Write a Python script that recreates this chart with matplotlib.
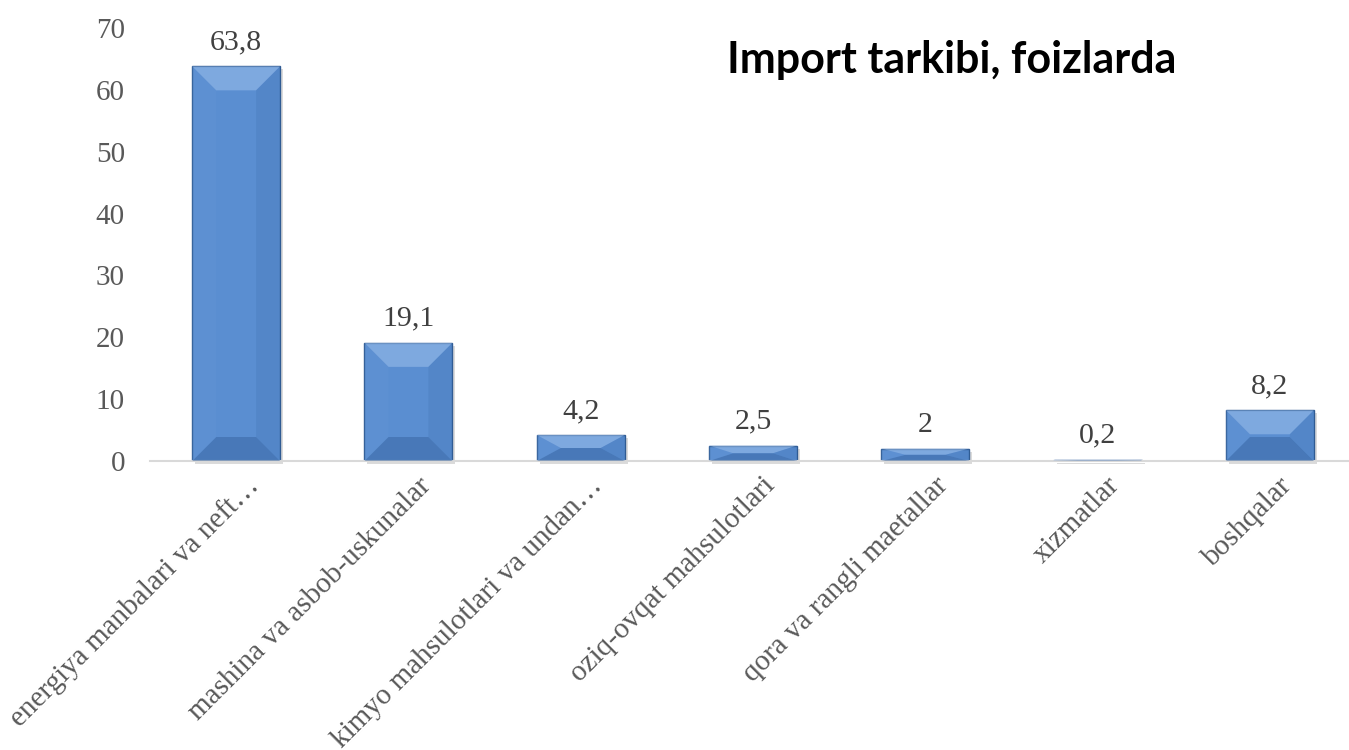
import matplotlib
matplotlib.use('Agg')
import matplotlib.pyplot as plt
from matplotlib.patches import Polygon
from matplotlib.transforms import IdentityTransform, ScaledTranslation

categories = ["energiya manbalari va neft…", "mashina va asbob-uskunalar",
              "kimyo mahsulotlari va undan…", "oziq-ovqat mahsulotlari",
              "qora va rangli maetallar", "xizmatlar", "boshqalar"]
values = [63.8, 19.1, 4.2, 2.5, 2.0, 0.2, 8.2]
value_labels = ["63,8", "19,1", "4,2", "2,5", "2", "0,2", "8,2"]
yticks = [0, 10, 20, 30, 40, 50, 60, 70]

grey = '#595959'
fig = plt.figure(figsize=(13.49, 7.5), dpi=100)
ax = fig.add_axes([150 / 1349, (750 - 461) / 750, 1206 / 1349, (461 - 28) / 750])

x = list(range(len(values)))
bars = ax.bar(x, values, width=0.51, color='#5a8ed1', edgecolor='#2f5b93', linewidth=1.0, zorder=2)

ax.set_xlim(-0.5, 6.5)
ax.set_ylim(0, 70)
ax.set_yticks(yticks)
ax.set_yticklabels([str(t) for t in yticks], fontfamily='Liberation Serif', fontsize=21, color=grey)
ax.tick_params(axis='y', length=0, pad=18)
ax.tick_params(axis='x', length=0, pad=4)
ax.set_xticks(x)
ax.set_xticklabels(categories, rotation=45, ha='right', rotation_mode='anchor',
                   fontfamily='Liberation Serif', fontsize=21, color=grey)
for lbl in ax.get_xticklabels():
    lbl.set_transform(lbl.get_transform() + ScaledTranslation(9 / 100, -6 / 100, fig.dpi_scale_trans))

for s in ['top', 'right', 'left']:
    ax.spines[s].set_visible(False)
ax.spines['bottom'].set_color('#d9d9d9')
ax.spines['bottom'].set_linewidth(1.5)

# bevel effect drawn in pixel space from each bar's extent
fig.canvas.draw()
ident = IdentityTransform()
for b in bars:
    x0, y0 = ax.transData.transform((b.get_x(), 0))
    x1, y1 = ax.transData.transform((b.get_x() + b.get_width(), b.get_height()))
    h = y1 - y0
    d = min(24, h / 2)
    side = min(24, (x1 - x0) / 2)
    shadow = Polygon([(x0 + 3, y0 - 3), (x1 + 3, y0 - 3), (x1 + 3, y1 - 3), (x0 + 3, y1 - 3)],
                     closed=True, transform=ident, facecolor='#9a9a9a', alpha=0.35, lw=0, zorder=1.5)
    top = Polygon([(x0, y1), (x1, y1), (x1 - side, y1 - d), (x0 + side, y1 - d)],
                  closed=True, transform=ident, facecolor='#9dc0ec', alpha=0.55, lw=0, zorder=3)
    bot = Polygon([(x0, y0), (x1, y0), (x1 - side, y0 + d), (x0 + side, y0 + d)],
                  closed=True, transform=ident, facecolor='#3764a0', alpha=0.5, lw=0, zorder=3)
    rside = Polygon([(x1, y0), (x1, y1), (x1 - side, y1 - d), (x1 - side, y0 + d)],
                    closed=True, transform=ident, facecolor='#3f70b0', alpha=0.25, lw=0, zorder=3)
    lside = Polygon([(x0, y0), (x0, y1), (x0 + side, y1 - d), (x0 + side, y0 + d)],
                    closed=True, transform=ident, facecolor='#6d9bd8', alpha=0.2, lw=0, zorder=3)
    for p in (shadow, top, bot, rside, lside):
        ax.add_patch(p)
        p.set_transform(ident)
        p.set_clip_on(False)

for xi, v, lab in zip(x, values, value_labels):
    ax.annotate(lab, (xi, v), xytext=(0, 8), textcoords='offset points', ha='center', va='bottom',
                fontfamily='Liberation Serif', fontsize=21.5, color='#404040')

fig.text(0.539, 0.92, "Import tarkibi, foizlarda", fontfamily='Lato', fontweight='bold',
         fontsize=31, color='black', ha='left', va='center')

fig.savefig('out.png', dpi=100)
